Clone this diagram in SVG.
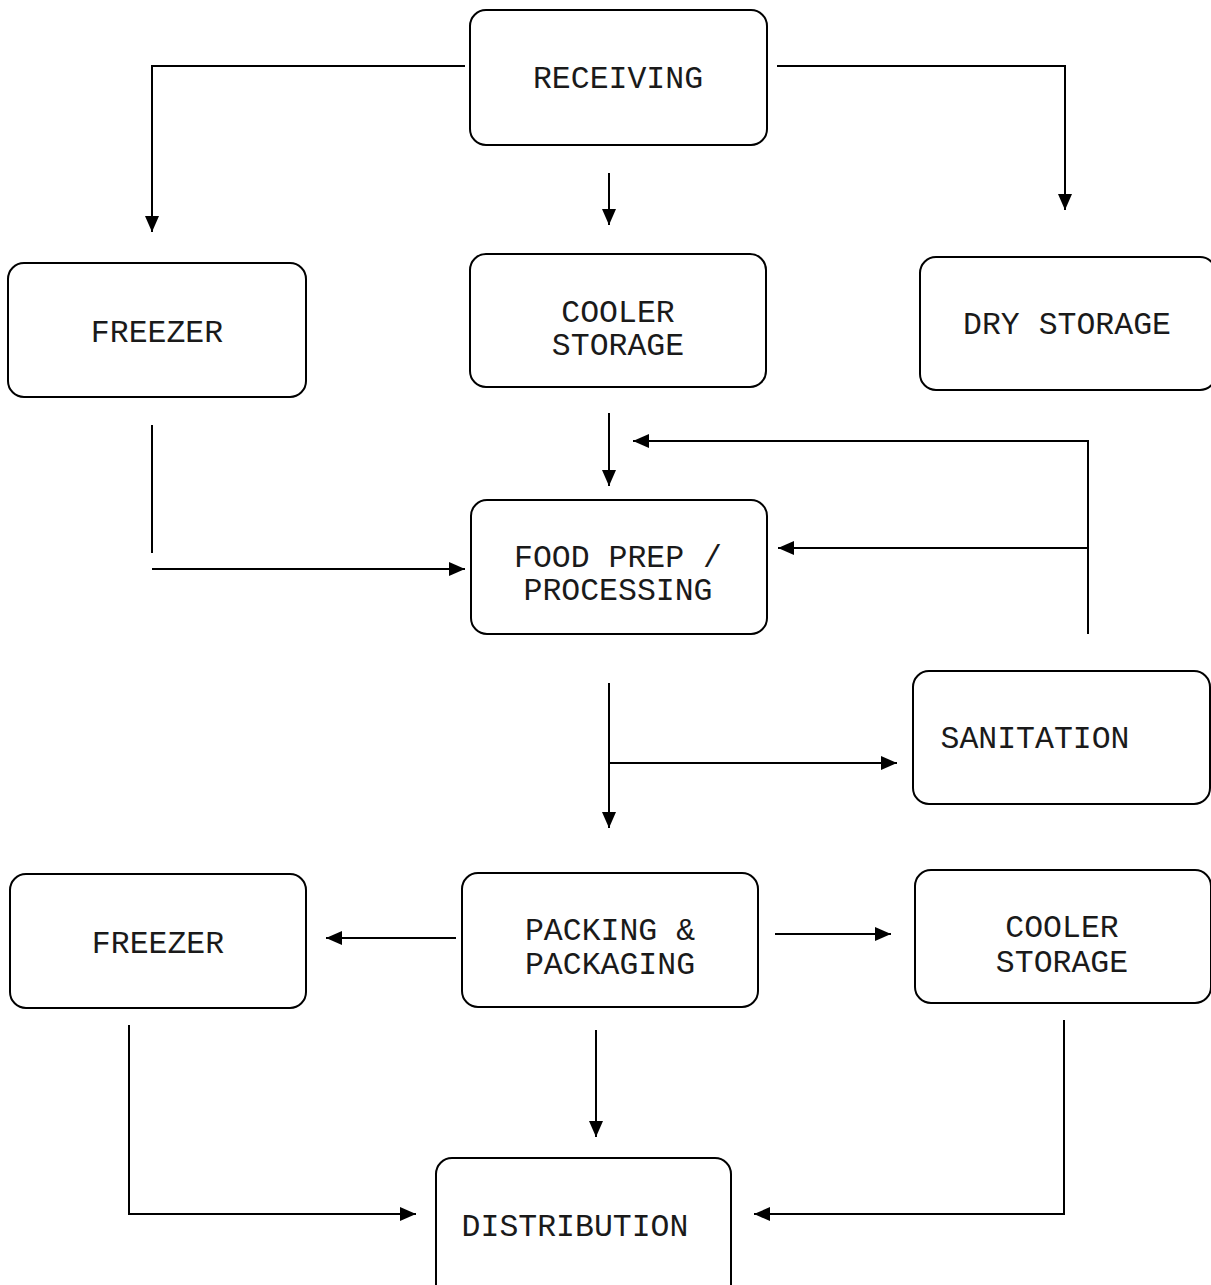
<svg xmlns="http://www.w3.org/2000/svg" width="1211" height="1285" viewBox="0 0 1211 1285">
<style>
.box{fill:#fff;stroke:#000;stroke-width:2}
.lbl{font-family:"Liberation Mono","Courier New",monospace;font-size:31.5px;fill:#1a1a1a;text-anchor:middle}
.ln{fill:none;stroke:#000;stroke-width:2}
</style>
<defs>
<marker id="ah" viewBox="0 0 16 14" refX="16" refY="7" markerWidth="16" markerHeight="14" markerUnits="userSpaceOnUse" orient="auto">
<path d="M0,0 L16,7 L0,14 Z" fill="#000"/>
</marker>
</defs>
<rect width="1211" height="1285" fill="#fff"/>
<g id="connectors">
<path class="ln" d="M465,66 H152 V232" marker-end="url(#ah)"/>
<path class="ln" d="M777,66 H1065 V210" marker-end="url(#ah)"/>
<path class="ln" d="M609,173 V225" marker-end="url(#ah)"/>
<path class="ln" d="M152,425 V553"/>
<path class="ln" d="M152,569 H465" marker-end="url(#ah)"/>
<path class="ln" d="M609,413 V486" marker-end="url(#ah)"/>
<path class="ln" d="M1088,634 V441 H633" marker-end="url(#ah)"/>
<path class="ln" d="M1088,548 H778" marker-end="url(#ah)"/>
<path class="ln" d="M609,683 V828" marker-end="url(#ah)"/>
<path class="ln" d="M609,763 H897" marker-end="url(#ah)"/>
<path class="ln" d="M456,938 H326" marker-end="url(#ah)"/>
<path class="ln" d="M775,934 H891" marker-end="url(#ah)"/>
<path class="ln" d="M596,1030 V1137" marker-end="url(#ah)"/>
<path class="ln" d="M129,1025 V1214 H416" marker-end="url(#ah)"/>
<path class="ln" d="M1064,1020 V1214 H754" marker-end="url(#ah)"/>
</g>
<g id="receiving"><rect class="box" x="470" y="10" width="297" height="135" rx="16"/><text class="lbl" x="618" y="88">RECEIVING</text></g>
<g id="freezer1"><rect class="box" x="8" y="263" width="298" height="134" rx="16"/><text class="lbl" x="157" y="342">FREEZER</text></g>
<g id="cooler1"><rect class="box" x="470" y="254" width="296" height="133" rx="16"/><text class="lbl" x="618" y="322">COOLER</text><text class="lbl" x="618" y="355">STORAGE</text></g>
<g id="dry"><rect class="box" x="920" y="257" width="296" height="133" rx="16"/><text class="lbl" x="1067" y="334">DRY STORAGE</text></g>
<g id="foodprep"><rect class="box" x="471" y="500" width="296" height="134" rx="16"/><text class="lbl" x="618" y="567">FOOD PREP /</text><text class="lbl" x="618" y="600">PROCESSING</text></g>
<g id="sanitation"><rect class="box" x="913" y="671" width="297" height="133" rx="16"/><text class="lbl" x="1035" y="748">SANITATION</text></g>
<g id="freezer2"><rect class="box" x="10" y="874" width="296" height="134" rx="16"/><text class="lbl" x="158" y="953">FREEZER</text></g>
<g id="packing"><rect class="box" x="462" y="873" width="296" height="134" rx="16"/><text class="lbl" x="610" y="940">PACKING &amp;</text><text class="lbl" x="610" y="974">PACKAGING</text></g>
<g id="cooler2"><rect class="box" x="915" y="870" width="296" height="133" rx="16"/><text class="lbl" x="1062" y="937">COOLER</text><text class="lbl" x="1062" y="972">STORAGE</text></g>
<g id="distribution"><rect class="box" x="436" y="1158" width="295" height="150" rx="16"/><text class="lbl" x="575" y="1236">DISTRIBUTION</text></g>
</svg>
